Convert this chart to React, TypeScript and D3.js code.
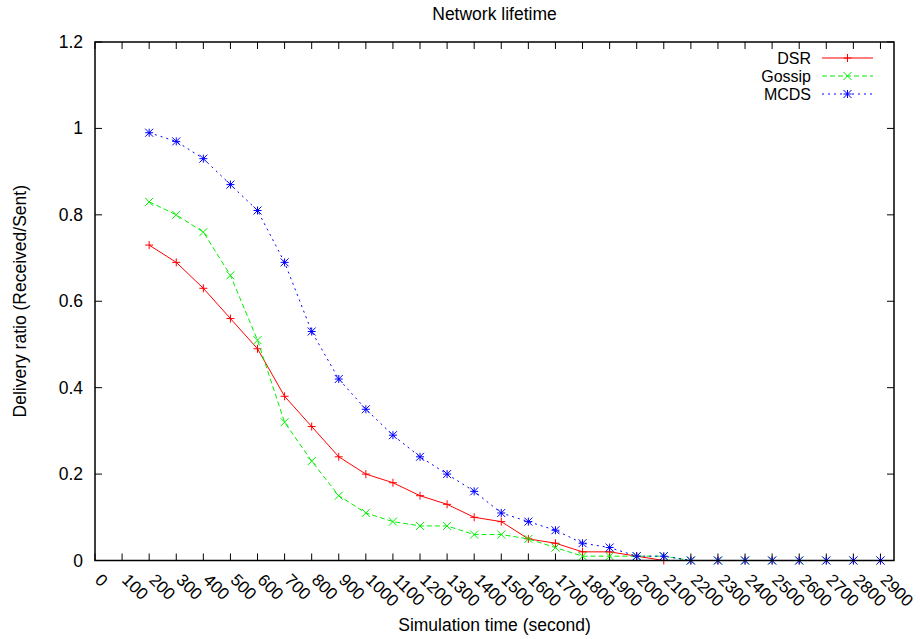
import React from "react";
import * as d3 from "d3";

const times = [200, 300, 400, 500, 600, 700, 800, 900, 1000, 1100, 1200, 1300, 1400, 1500, 1600, 1700, 1800, 1900, 2000, 2100, 2200, 2300, 2400, 2500, 2600, 2700, 2800, 2900];
const dsr = [0.73, 0.69, 0.63, 0.56, 0.49, 0.38, 0.31, 0.24, 0.2, 0.18, 0.15, 0.13, 0.1, 0.09, 0.05, 0.04, 0.02, 0.02, 0.01, 0, 0, 0, 0, 0, 0, 0, 0, 0];
const gossip = [0.83, 0.8, 0.76, 0.66, 0.51, 0.32, 0.23, 0.15, 0.11, 0.09, 0.08, 0.08, 0.06, 0.06, 0.05, 0.03, 0.01, 0.01, 0.01, 0.01, 0, 0, 0, 0, 0, 0, 0, 0];
const mcds = [0.99, 0.97, 0.93, 0.87, 0.81, 0.69, 0.53, 0.42, 0.35, 0.29, 0.24, 0.2, 0.16, 0.11, 0.09, 0.07, 0.04, 0.03, 0.01, 0.01, 0, 0, 0, 0, 0, 0, 0, 0];
const xTicks = [0, 100, 200, 300, 400, 500, 600, 700, 800, 900, 1000, 1100, 1200, 1300, 1400, 1500, 1600, 1700, 1800, 1900, 2000, 2100, 2200, 2300, 2400, 2500, 2600, 2700, 2800, 2900];
const yTicks = [0, 0.2, 0.4, 0.6, 0.8, 1, 1.2];
const seriesNames = ["DSR", "Gossip", "MCDS"];

const W = 920;
const H = 639;
const L = 95;
const R = 894;
const T = 42;
const B = 560.5;
const FONT = "'Liberation Sans', Arial, Helvetica, sans-serif";
const FS = 17.5;

type Marker = "plus" | "cross" | "star";

const styles: { color: string; dash: string | undefined; marker: Marker }[] = [
  { color: "#ff0000", dash: undefined, marker: "plus" },
  { color: "#00ee00", dash: "5,3", marker: "cross" },
  { color: "#0000ff", dash: "2,4", marker: "star" },
];

function markerPath(m: Marker, x: number, y: number, s = 4): string {
  const plus = `M${x - s},${y}H${x + s}M${x},${y - s}V${y + s}`;
  const cross = `M${x - s},${y - s}L${x + s},${y + s}M${x - s},${y + s}L${x + s},${y - s}`;
  if (m === "plus") return plus;
  if (m === "cross") return cross;
  return plus + cross;
}

export default function App() {
  const x = d3.scaleLinear().domain([0, 2950]).range([L, R]);
  const y = d3.scaleLinear().domain([0, 1.2]).range([B, T]);
  const seriesData = [dsr, gossip, mcds];
  const line = d3
    .line<number>()
    .x((_, i) => x(times[i]))
    .y((d) => y(d));
  const fmt = d3.format("");

  return (
    <svg
      width={W}
      height={H}
      style={{ position: "absolute", left: 0, top: 0, background: "#fff" }}
      fontFamily={FONT}
    >
      <rect x={0} y={0} width={W} height={H} fill="#fff" />
      {xTicks.map((t) => (
        <g key={"xt" + t}>
          <line x1={x(t)} x2={x(t)} y1={B} y2={B - 7} stroke="#000" strokeWidth={1} />
          <line x1={x(t)} x2={x(t)} y1={T} y2={T + 7} stroke="#000" strokeWidth={1} />
          <text
            x={x(t) - 1}
            y={581}
            fontSize={FS - 0.5}
            transform={`rotate(45, ${x(t) - 1}, 581)`}
            textAnchor="start"
            fill="#000"
          >
            {t}
          </text>
        </g>
      ))}
      {yTicks.map((t) => (
        <g key={"yt" + t}>
          <line x1={L} x2={L + 7} y1={y(t)} y2={y(t)} stroke="#000" strokeWidth={1} />
          <line x1={R} x2={R - 7} y1={y(t)} y2={y(t)} stroke="#000" strokeWidth={1} />
          <text x={83} y={y(t) + 6} fontSize={FS} textAnchor="end" fill="#000">
            {fmt(t)}
          </text>
        </g>
      ))}
      {seriesData.map((d, si) => (
        <g key={"s" + si}>
          <path
            d={line(d) || ""}
            fill="none"
            stroke={styles[si].color}
            strokeWidth={1}
            strokeDasharray={styles[si].dash}
          />
          {d.map((v, i) => (
            <path
              key={i}
              d={markerPath(styles[si].marker, x(times[i]), y(v))}
              stroke={styles[si].color}
              strokeWidth={1}
              fill="none"
            />
          ))}
        </g>
      ))}
      <rect x={L} y={T} width={R - L} height={B - T} fill="none" stroke="#000" strokeWidth={1.5} />
      {seriesNames.map((n, i) => {
        const cy = 58 + i * 18;
        return (
          <g key={"lg" + n}>
            <text x={811} y={cy + 5.5} fontSize={16} textAnchor="end" fill="#000">
              {n}
            </text>
            <line
              x1={822}
              x2={873}
              y1={cy}
              y2={cy}
              stroke={styles[i].color}
              strokeWidth={1.2}
              strokeDasharray={styles[i].dash}
            />
            <path d={markerPath(styles[i].marker, 847.5, cy)} stroke={styles[i].color} strokeWidth={1} fill="none" />
          </g>
        );
      })}
      <text x={(L + R) / 2} y={20} fontSize={FS} textAnchor="middle" fill="#000">
        Network lifetime
      </text>
      <text x={(L + R) / 2} y={631} fontSize={FS} textAnchor="middle" fill="#000">
        Simulation time (second)
      </text>
      <text
        x={26}
        y={(T + B) / 2}
        fontSize={FS}
        textAnchor="middle"
        transform={`rotate(-90, 26, ${(T + B) / 2})`}
        fill="#000"
      >
        Delivery ratio (Received/Sent)
      </text>
    </svg>
  );
}
